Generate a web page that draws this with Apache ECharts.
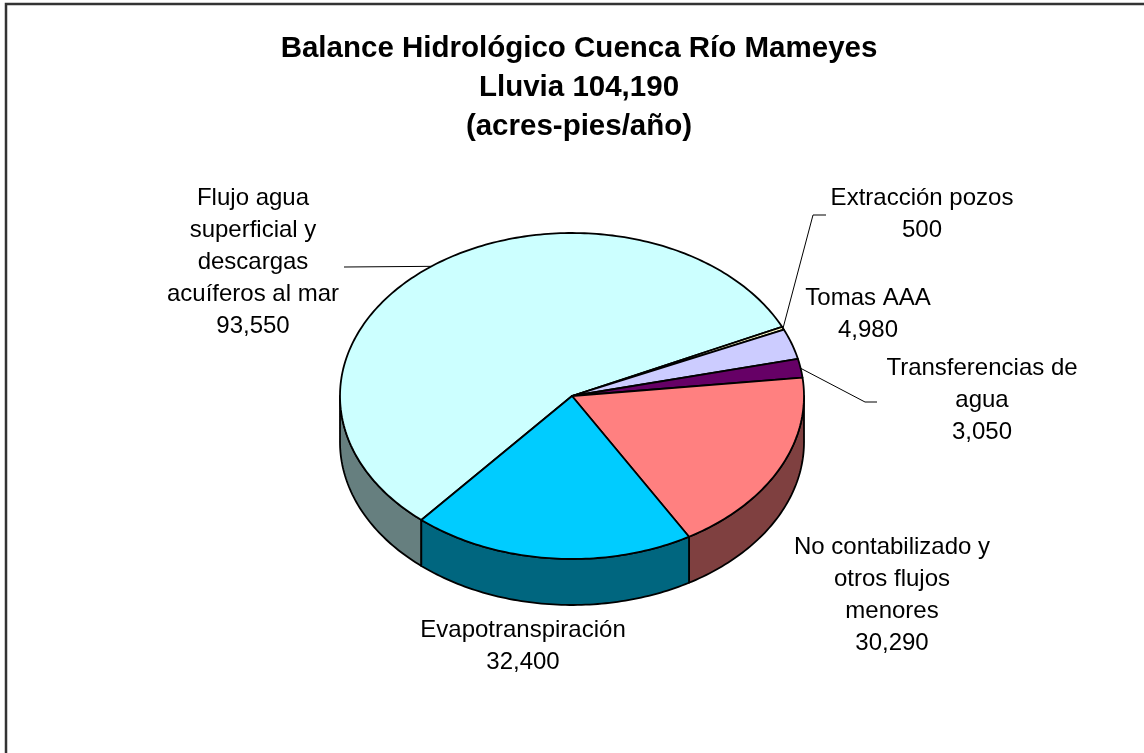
<!DOCTYPE html>
<html>
<head>
<meta charset="utf-8">
<script src="https://cdn.jsdelivr.net/npm/echarts@6/dist/echarts.min.js"></script>
<style>
  html, body { margin: 0; padding: 0; background: #fff; }
  #chart { width: 1144px; height: 753px; }
</style>
</head>
<body>
<div id="chart"></div>
<script>
// slices, clockwise as they sit in the picture
var categories = [
  'Flujo agua\nsuperficial y\ndescargas\nacuíferos al mar',
  'Extracción pozos',
  'Tomas AAA',
  'Transferencias de\nagua',
  'No contabilizado y\notros flujos\nmenores',
  'Evapotranspiración'
]
var values = [93550, 500, 4980, 3050, 30290, 32400]
var colors = ['#CCFFFF', '#FFFFCC', '#CCCCFF', '#660066', '#FF8080', '#00CCFF']

// label box: [center x, top y]; leader: bend points after the rim point
var labelPos = [[253, 182], [922, 182], [868, 282], [982, 352], [892, 531], [523, 614]]
var leaders = [[[344, 267]], [[813, 215], [826, 215]], null, [[865, 402], [877, 402]], null, null]

var CX = 572, CY = 396, RX = 232, RY = 163, DEPTH = 46, START_DEG = 220.5
var FONT = '"Liberation Sans", Arial, sans-serif'

var total = values.reduce(function (a, b) { return a + b }, 0)

function rim(deg, drop) {
  var r = deg * Math.PI / 180
  return [CX + RX * Math.sin(r), CY - RY * Math.cos(r) + (drop || 0)]
}

function arc(a0, a1, drop) {
  var pts = []
  var n = Math.max(2, Math.ceil(Math.abs(a1 - a0)))
  for (var k = 0; k <= n; k++) {
    pts.push(rim(a0 + (a1 - a0) * k / n, drop))
  }
  return pts
}

function shade(hex) {
  var n = parseInt(hex.slice(1), 16)
  return 'rgb(' + (((n >> 16) & 255) >> 1) + ',' + (((n >> 8) & 255) >> 1) + ',' + ((n & 255) >> 1) + ')'
}

function fmt(v) {
  return String(v).replace(/\B(?=(\d{3})+(?!\d))/g, ',')
}

function renderSlice(params, api) {
  var i = params.dataIndex
  var before = 0
  for (var k = 0; k < i; k++) before += values[k]
  var a0 = START_DEG + before / total * 360
  var a1 = a0 + api.value(0) / total * 360
  var children = []

  // front wall, only where the rim faces the viewer
  ;[[90, 270], [450, 630]].forEach(function (vis) {
    var s = Math.max(a0, vis[0])
    var e = Math.min(a1, vis[1])
    if (e - s > 0.01) {
      var pts = arc(s, e, 0).concat(arc(e, s, DEPTH))
      children.push({
        type: 'polygon',
        z2: 1,
        shape: { points: pts },
        style: { fill: shade(colors[i]), stroke: '#000', lineWidth: 1.8, lineJoin: 'round' }
      })
    }
  })

  // top face
  children.push({
    type: 'polygon',
    z2: 10,
    shape: { points: [[CX, CY]].concat(arc(a0, a1, 0)) },
    style: { fill: colors[i], stroke: '#000', lineWidth: 1.8, lineJoin: 'round' }
  })

  if (leaders[i]) {
    children.push({
      type: 'polyline',
      z2: 20,
      shape: { points: [rim((a0 + a1) / 2, 0)].concat(leaders[i]) },
      style: { fill: null, stroke: '#000', lineWidth: 1 }
    })
  }

  children.push({
    type: 'text',
    z2: 20,
    style: {
      text: categories[i] + '\n' + fmt(api.value(0)),
      x: labelPos[i][0],
      y: labelPos[i][1],
      font: '24px ' + FONT,
      fill: '#000',
      textFill: '#000',
      align: 'center',
      textAlign: 'center',
      verticalAlign: 'top',
      textVerticalAlign: 'top',
      lineHeight: 32
    }
  })

  return { type: 'group', children: children }
}

var chart = echarts.init(document.getElementById('chart'))
chart.setOption({
  animation: false,
  backgroundColor: '#fff',
  title: {
    text: 'Balance Hidrológico Cuenca Río Mameyes\nLluvia 104,190\n(acres-pies/año)',
    left: 579,
    top: 29,
    padding: 0,
    textAlign: 'center',
    textStyle: {
      fontFamily: FONT,
      fontSize: 29.5,
      fontWeight: 'bold',
      color: '#000',
      lineHeight: 39
    }
  },
  graphic: [{
    type: 'rect',
    shape: { x: 6, y: 4, width: 1300, height: 900 },
    style: { fill: null, stroke: '#333', lineWidth: 2.5 }
  }],
  series: [{
    type: 'custom',
    coordinateSystem: 'none',
    data: values,
    renderItem: renderSlice
  }]
})
</script>
</body>
</html>
